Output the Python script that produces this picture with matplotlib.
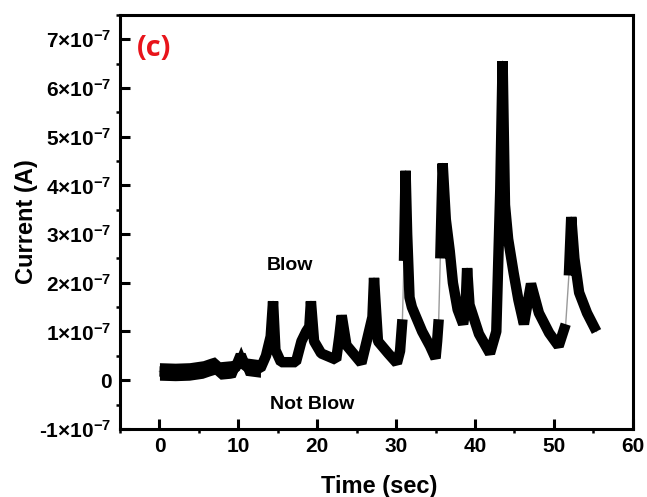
import matplotlib
matplotlib.use('Agg')
import matplotlib.pyplot as plt
from matplotlib.ticker import MultipleLocator, FuncFormatter

plt.rcParams['font.family'] = ['Liberation Sans', 'DejaVu Sans']
plt.rcParams['font.weight'] = 'bold'
plt.rcParams['mathtext.fontset'] = 'custom'
plt.rcParams['mathtext.rm'] = 'Liberation Sans:bold'
plt.rcParams['mathtext.bf'] = 'Liberation Sans:bold'

# время (с) и ток (x1e-7 A)
time_s = [0.0, 2.0, 3.8, 5.5, 6.4, 7.0, 7.7, 9.0, 9.6, 10.3, 10.9, 12.8, 13.5,
          14.1, 14.4, 14.7, 15.4, 17.3, 18.0, 18.6, 19.0, 19.2, 19.6, 20.5,
          22.4, 22.8, 23.1, 23.7, 25.6, 26.3, 27.0, 27.2, 27.7, 29.0, 30.1,
          30.5, 30.8,
          31.0, 31.2, 31.4, 31.7, 32.0, 33.3, 34.3, 35.0, 35.2, 35.4,
          35.6, 35.9, 36.3, 36.8, 37.2, 37.8, 38.5, 38.8, 39.0, 39.3, 40.5,
          41.9, 42.7, 43.2, 43.5, 43.8, 44.2, 44.9, 45.5, 46.2, 47.1, 48.1,
          49.4, 50.6, 51.5,
          51.9, 52.2, 52.6, 53.2, 54.2, 55.4]
current = [0.18, 0.17, 0.18, 0.22, 0.27, 0.3, 0.2, 0.22, 0.24, 0.52, 0.28,
           0.24, 0.5, 0.9, 1.62, 0.62, 0.37, 0.37, 0.8, 1.0, 1.1, 1.62, 0.8,
           0.55, 0.42, 0.9, 1.33, 0.72, 0.35, 0.82, 1.3, 2.1, 0.8, 0.55, 0.35,
           0.6, 1.25,
           2.45, 4.3, 3.0, 1.7, 1.5, 1.0, 0.7, 0.45, 0.8, 1.25,
           2.5, 4.45, 3.3, 2.65, 2.0, 1.45, 1.15, 1.5, 2.3, 1.55, 0.95,
           0.55, 1.0, 3.9, 6.55, 3.6, 2.9, 2.2, 1.65, 1.15, 1.98, 1.38,
           0.97, 0.7, 1.15,
           2.15, 3.35, 2.5, 1.8, 1.38, 1.0]
current = [c * 1e-7 for c in current]

# участки без разрыва: индекс начала каждого участка
seg_starts = [0, 37, 47, 72]
seg_ends = seg_starts[1:] + [len(time_s)]
quiet_end = 12      # до ~13 с полоса шума шире
quiet_noise = 0.18e-7  # полуширина полосы шума

fig = plt.figure(figsize=(6.47, 4.97), dpi=100)
ax = fig.add_axes([0.1855, 0.137, 0.7925, 0.833])

# тонкие серые переходы между участками
ax.plot(time_s, current, color='#9a9a9a', linewidth=1.0)
for a, b in zip(seg_starts, seg_ends):
    ax.plot(time_s[a:b], current[a:b], color='black', linewidth=7.5,
            solid_joinstyle='bevel', solid_capstyle='butt')
tq = time_s[:quiet_end]
cq = current[:quiet_end]
ax.fill_between(tq, [c - quiet_noise for c in cq], [c + quiet_noise for c in cq],
                color='black', linewidth=0)

ax.set_xlim(-5, 60)
ax.set_ylim(-1e-7, 7.5e-7)

ax.xaxis.set_major_locator(MultipleLocator(10))
ax.xaxis.set_minor_locator(MultipleLocator(5))
ax.yaxis.set_major_locator(MultipleLocator(1e-7))
ax.yaxis.set_minor_locator(MultipleLocator(0.5e-7))


def sci_fmt(v, pos):
    n = int(round(v / 1e-7))
    if n == 0:
        return '0'
    sign = '-' if n < 0 else ''
    return sign + r'$\mathbf{%d{\times}10^{-7}}$' % abs(n)


ax.yaxis.set_major_formatter(FuncFormatter(sci_fmt))

for s in ax.spines.values():
    s.set_linewidth(2.2)
ax.tick_params(which='major', direction='in', length=7, width=2.2,
               labelsize=15, pad=6)
ax.tick_params(which='minor', direction='out', length=3, width=1.8)

ax.set_xlabel('Time (sec)', fontsize=17, fontweight='bold', va='top')
ax.xaxis.set_label_coords(0.505, -0.112)
ax.set_ylabel('Current (A)', fontsize=17, fontweight='bold')
ax.yaxis.set_label_coords(-0.16, 0.5)

ax.text(0.033, 0.92, '(c)', transform=ax.transAxes, color='#e8141b',
        fontsize=21, fontweight='bold', family=['Open Sans', 'DejaVu Sans'],
        va='center', ha='left')
ax.text(16.6, 2.36e-7, 'Blow', fontsize=14, fontweight='bold',
        ha='center', va='center')
ax.text(19.3, -0.5e-7, 'Not Blow', fontsize=14, fontweight='bold',
        ha='center', va='center')

plt.savefig('out.png', dpi=100)
